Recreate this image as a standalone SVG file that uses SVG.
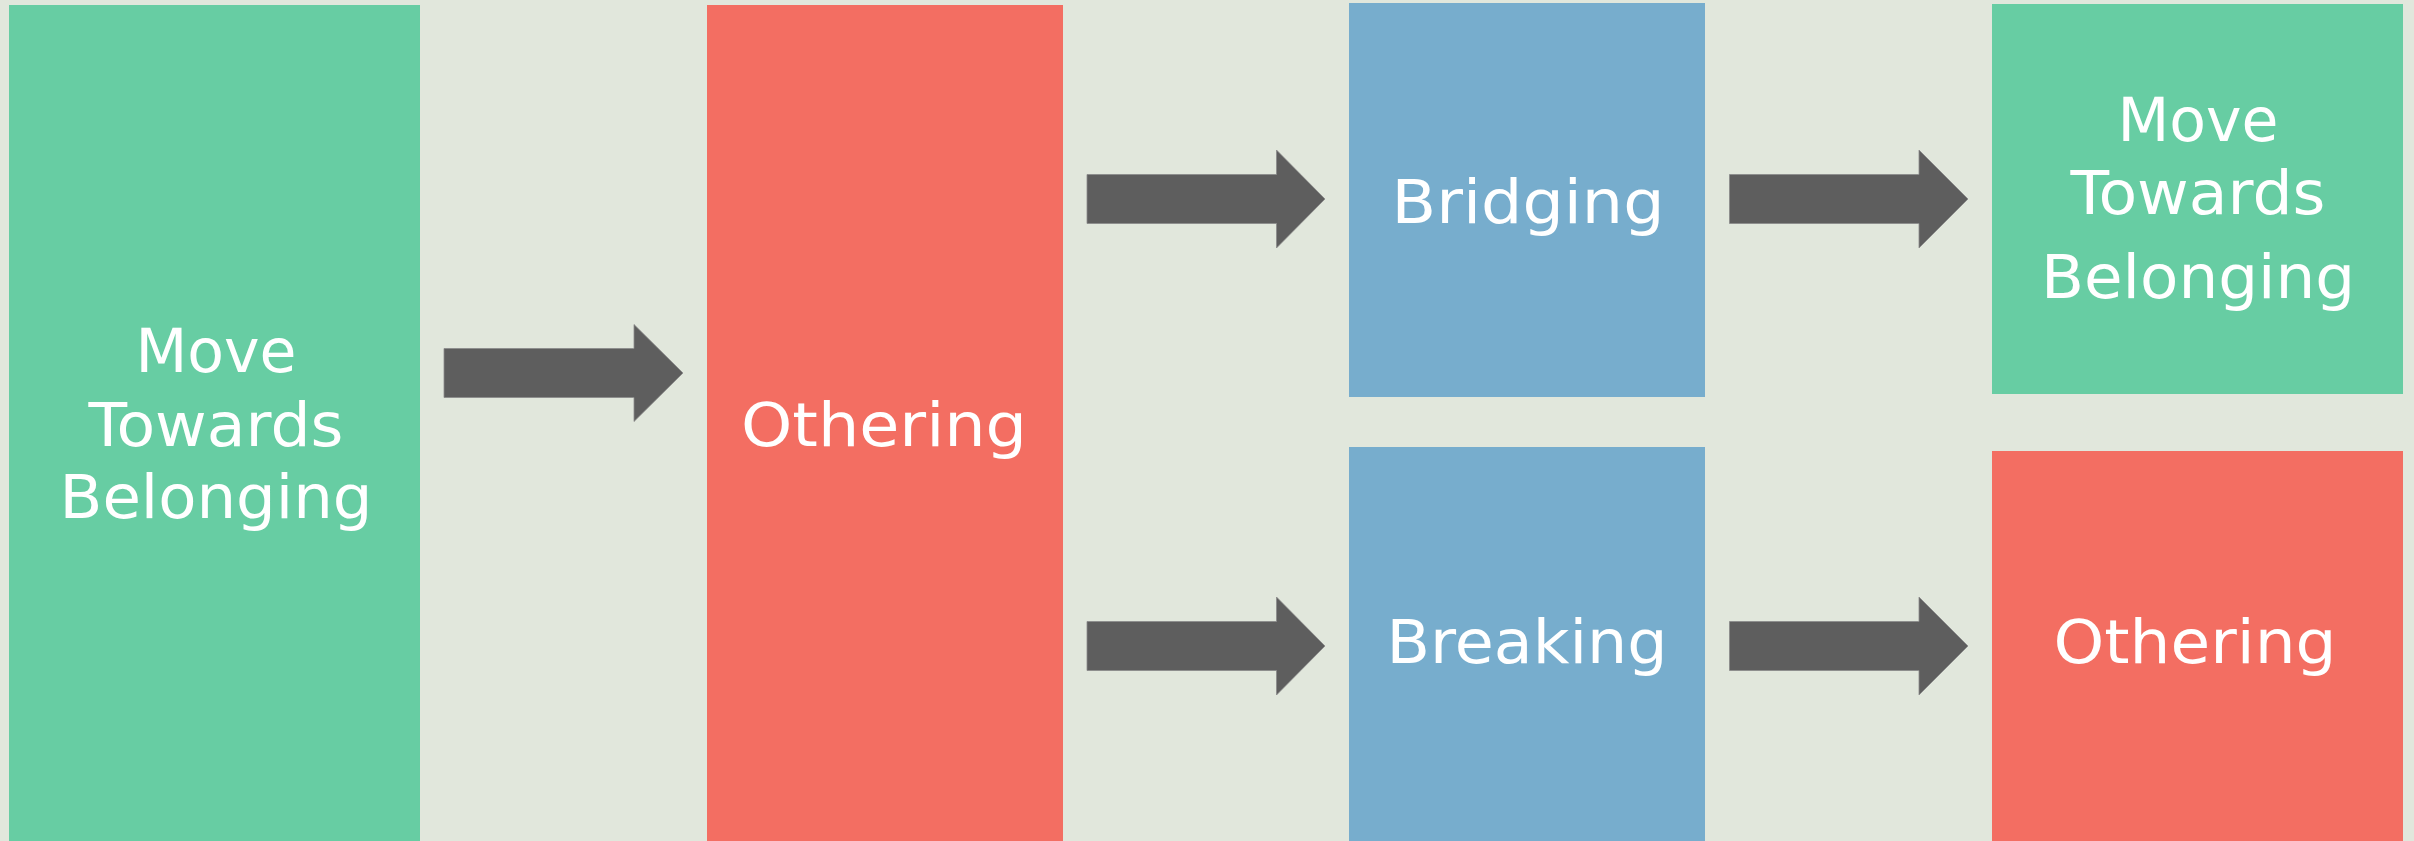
<svg xmlns="http://www.w3.org/2000/svg" width="2414" height="841" viewBox="0 0 2414 841">
<style>
.lbl{font-family:"DejaVu Sans","Liberation Sans",sans-serif;font-size:61px;fill:#ffffff;text-anchor:middle}
.green{fill:#67CDA3}
.red{fill:#F36E62}
.blue{fill:#77ADCD}
.arrow{fill:#5E5E5E;stroke:#8A8A8A;stroke-width:0.8}
</style>
<rect x="0" y="0" width="2414" height="841" fill="#E1E7DC"/>
<g id="node-belonging-left">
<rect class="green" x="9" y="5" width="411" height="836"/>
<text class="lbl" x="216" y="372" textLength="161" lengthAdjust="spacingAndGlyphs">Move</text>
<text class="lbl" x="216" y="445.5" textLength="255" lengthAdjust="spacingAndGlyphs">Towards</text>
<text class="lbl" x="216" y="518" textLength="313" lengthAdjust="spacingAndGlyphs">Belonging</text>
</g>
<g id="node-othering-mid">
<rect class="red" x="707" y="5" width="356" height="836"/>
<text class="lbl" x="884" y="445.5" textLength="286" lengthAdjust="spacingAndGlyphs">Othering</text>
</g>
<g id="node-bridging">
<rect class="blue" x="1349" y="3" width="356" height="394"/>
<text class="lbl" x="1528" y="223" textLength="273" lengthAdjust="spacingAndGlyphs">Bridging</text>
</g>
<g id="node-breaking">
<rect class="blue" x="1349" y="447" width="356" height="394"/>
<text class="lbl" x="1527" y="663" textLength="281" lengthAdjust="spacingAndGlyphs">Breaking</text>
</g>
<g id="node-belonging-right">
<rect class="green" x="1992" y="4" width="411" height="390"/>
<text class="lbl" x="2198" y="141" textLength="161" lengthAdjust="spacingAndGlyphs">Move</text>
<text class="lbl" x="2198" y="213.5" textLength="255" lengthAdjust="spacingAndGlyphs">Towards</text>
<text class="lbl" x="2198" y="297.5" textLength="314" lengthAdjust="spacingAndGlyphs">Belonging</text>
</g>
<g id="node-othering-right">
<rect class="red" x="1992" y="451" width="411" height="390"/>
<text class="lbl" x="2195" y="663" textLength="283" lengthAdjust="spacingAndGlyphs">Othering</text>
</g>
<g id="connectors">
<polygon class="arrow" points="444,348.5 634,348.5 634,324.5 683,373 634,421.5 634,397.5 444,397.5"/>
<polygon class="arrow" points="1087,174.5 1276.5,174.5 1276.5,150 1325,199 1276.5,248 1276.5,223.5 1087,223.5"/>
<polygon class="arrow" points="1087,621.5 1276.5,621.5 1276.5,597 1325,646 1276.5,695 1276.5,670.5 1087,670.5"/>
<polygon class="arrow" points="1729.5,174.5 1919,174.5 1919,150 1968,199 1919,248 1919,223.5 1729.5,223.5"/>
<polygon class="arrow" points="1729.5,621.5 1919,621.5 1919,597 1968,646 1919,695 1919,670.5 1729.5,670.5"/>
</g>
</svg>
